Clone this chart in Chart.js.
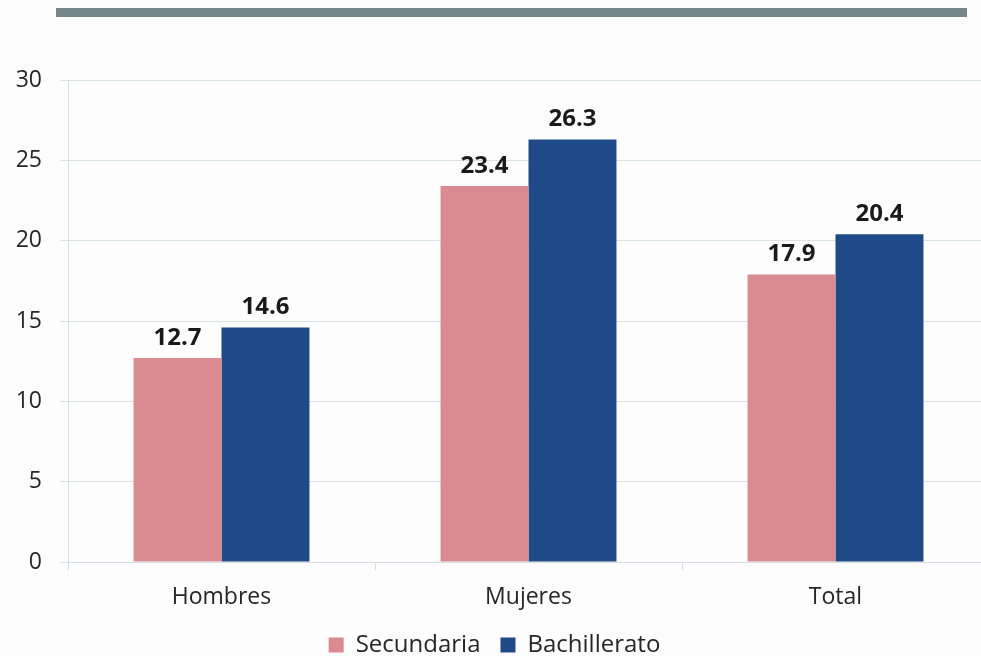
<!DOCTYPE html>
<html>
<head>
<meta charset="utf-8">
<script src="https://cdn.jsdelivr.net/npm/chart.js@4"></script>
<style>
  html, body { margin: 0; padding: 0; background: #fdfdfd; overflow: hidden; }
  #wrap { position: relative; width: 990px; height: 670px; }
  #topbar { position: absolute; left: 56px; top: 8px; width: 911px; height: 9px; background: #76858a; }
  #box { position: absolute; left: 0; top: 0; width: 990px; height: 670px; }
</style>
</head>
<body>
<div id="wrap">
  <div id="topbar"></div>
  <div id="box"><canvas id="myChart" width="990" height="670"></canvas></div>
</div>
<script>
// categorías y valores (%)
var categorias = ['Hombres', 'Mujeres', 'Total'];
var secundaria = [12.7, 23.4, 17.9];
var bachillerato = [14.6, 26.3, 20.4];
var ticks_y = [0, 5, 10, 15, 20, 25, 30];

var FONT = "'Open Sans', sans-serif";

// etiquetas de valor sobre cada barra
var etiquetas = {
	id: 'etiquetas',
	afterDatasetsDraw: function(chart) {
		var ctx = chart.ctx;
		ctx.save();
		ctx.font = 'bold 24px ' + FONT;
		ctx.fillStyle = '#1a1a1a';
		ctx.textAlign = 'center';
		ctx.textBaseline = 'alphabetic';
		chart.data.datasets.forEach(function(ds, i) {
			chart.getDatasetMeta(i).data.forEach(function(bar, j) {
				ctx.fillText(ds.data[j].toFixed(1), bar.x, bar.y - 13);
			});
		});
		ctx.restore();
	}
};

var ctx = document.getElementById('myChart').getContext('2d');
var myChart = new Chart(ctx, {
	type: 'bar',
	data: {
		labels: categorias,
		datasets: [
			{
				label: 'Secundaria',
				data: secundaria,
				backgroundColor: '#da8b91'
			}, {
				label: 'Bachillerato',
				data: bachillerato,
				backgroundColor: '#1f4a87'
			}
		]
	},
	options: {
		responsive: false,
		animation: false,
		devicePixelRatio: 1,
		layout: { padding: { top: 80, left: 0, right: 1, bottom: 3 } },
		datasets: {
			bar: { categoryPercentage: 0.573, barPercentage: 1.0 }
		},
		scales: {
			x: {
				afterFit: function(scale) { scale.height = 51; },
				grid: { display: true, drawOnChartArea: false, color: '#d5dde0', tickLength: 8, offset: true },
				border: { color: '#d5dde0' },
				ticks: { color: '#262626', font: { family: FONT, size: 23 }, padding: 14 }
			},
			y: {
				min: 0,
				max: 30,
				afterBuildTicks: function(scale) {
					scale.ticks = ticks_y.map(function(v) { return { value: v }; });
				},
				afterFit: function(scale) { scale.width = 68; },
				grid: { color: '#dbe2e5', tickLength: 8 },
				border: { color: '#d5dde0' },
				ticks: { color: '#262626', font: { family: FONT, size: 23 }, padding: 18 }
			}
		},
		plugins: {
			legend: {
				position: 'bottom',
				labels: {
					color: '#262626',
					font: { family: FONT, size: 24 },
					boxWidth: 15,
					boxHeight: 15,
					padding: 20
				}
			},
			tooltip: { enabled: false }
		}
	},
	plugins: [etiquetas]
});
</script>
</body>
</html>
